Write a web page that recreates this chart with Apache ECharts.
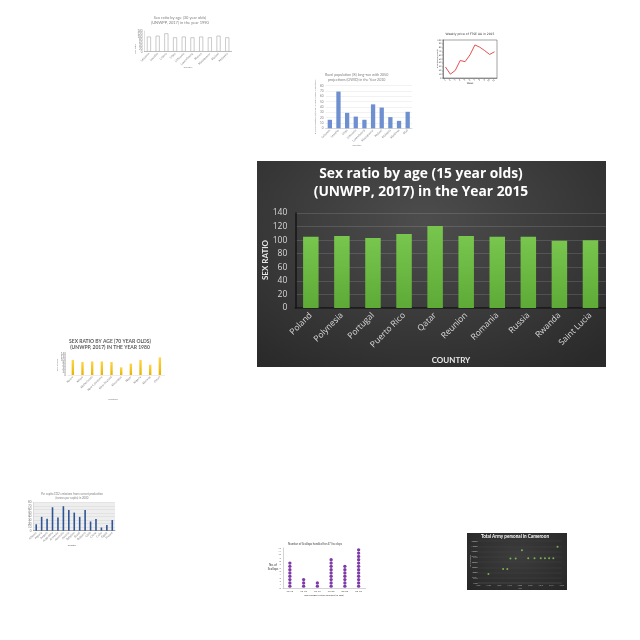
<!DOCTYPE html>
<html><head><meta charset="utf-8">
<script src="https://cdn.jsdelivr.net/npm/echarts@6/dist/echarts.min.js"></script>
<style>
html,body{margin:0;padding:0;background:#fff;}
#page{position:relative;width:640px;height:640px;overflow:hidden;background:#fff;}
.c{position:absolute;}
</style></head><body><div id="page"></div>
<script>
// ---------- MAIN CHART DATA ----------
const mainTitle1 = 'Sex ratio by age (15 year olds)';
const mainTitle2 = '(UNWPP, 2017) in the Year 2015';
const mainCategories = ['Poland','Polynesia','Portugal','Puerto Rico','Qatar','Reunion','Romania','Russia','Rwanda','Saint Lucia'];
const mainValues = [105, 106, 103, 109, 121, 106, 105, 105, 99, 100];

// ---------- SMALL CHART A (30 year olds, 1990) ----------
const aTitle1 = 'Sex ratio by age (30 year olds)';
const aTitle2 = '(UNWPP, 2017) in the year 1990';
const aCategories = ['Lebanon','Lesotho','Liberia','Libya','Lithuania','Luxembourg','Macao','Madagascar','Malawi','Malaysia'];
const aValues = [102, 108, 124, 97, 102, 97, 102, 97, 108, 97];

// ---------- SMALL CHART B (rural population) ----------
const bTitle1 = 'Rural population (%) long-run with 2050';
const bTitle2 = 'projections (OWID) in the Year 2010';
const bCategories = ['Lebanon','Lesotho','Libya','Lithuania','Luxembourg','Madagascar','Malawi','Malaysia','Maldives','Mali'];
const bValues = [16, 69, 29, 22, 16, 45, 39, 21, 14, 31];

// ---------- SMALL CHART C (line) ----------
const cTitle = 'Weekly price of FTSE AA in 2015';
const cCategories = ['1','2','3','4','5','6','7','8','9','10','11'];
const cValues = [29, 10, 20, 46, 43, 61, 87, 81, 72, 62, 69];

// ---------- SMALL CHART D (70 year olds, 1980) ----------
const dTitle1 = 'SEX RATIO BY AGE (70 YEAR OLDS)';
const dTitle2 = '(UNWPP, 2017) IN THE YEAR 1980';
const dCategories = ['Nauru','Nepal','Netherlands','New Caledonia','New Zealand','Nicaragua','Niger','Nigeria','Norway','Oman'];
const dValues = [102, 88, 92, 92, 88, 52, 77, 102, 70, 119];

// ---------- SMALL CHART E (blue bars) ----------
const eTitle1 = 'Per capita CO2 emissions from cement production';
const eTitle2 = '(tonnes per capita) in 2000';
const eCategories = ['Albania','Algeria','Angola','Argentina','Armenia','Australia','Austria','Belgium','Brazil','Bulgaria','Chile','China','Cuba','Egypt','France'];
const eValues = [18, 39, 34, 66, 37, 69, 58, 51, 39, 58, 26, 33, 9, 16, 30];

// ---------- SMALL CHART F (dot columns) ----------
const fTitle = 'Number of Scallops handled for 47 live days';
const fCategories = ['60-65','65-70','70-75','75-80','80-85','85-90'];
const fCounts = [8, 3, 2, 9, 7, 12];

// ---------- SMALL CHART G (dark scatter) ----------
const gTitle = 'Total Army personal in Cameroon';
const gYears = [1985, 1992, 1994, 1995.5, 1998, 2001, 2004, 2007, 2010, 2012, 2014, 2016, 2018];
const gValues = [3400, 5300, 5300, 9300, 9300, 12500, 9400, 9400, 9400, 9400, 9400, 9400, 13800];

// ---------- helpers ----------
const page = document.getElementById('page');
function mk(left, top, w, h, option, css) {
  const d = document.createElement('div');
  d.className = 'c';
  d.style.left = left + 'px'; d.style.top = top + 'px';
  d.style.width = w + 'px'; d.style.height = h + 'px';
  if (css) d.style.background = css;
  page.appendChild(d);
  const ch = echarts.init(d, null, {renderer: 'canvas'});
  option.animation = false;
  if (option.grid) { option.grid.containLabel = false; option.grid.outerBoundsMode = 'none'; }
  ch.setOption(option);
  return ch;
}
function txt(x, y, text, size, color, weight, family) {
  return {type: 'text', x: x, y: y, silent: true,
    style: {text: text, fill: color, fontSize: size, fontWeight: weight || 'normal',
      fontFamily: family || 'Lato', align: 'center', verticalAlign: 'middle'}};
}
function vtxt(x, y, text, size, color, weight) {
  return {type: 'text', x: x, y: y, rotation: Math.PI / 2, silent: true,
    style: {text: text, fill: color, fontSize: size, fontWeight: weight || 'normal',
      fontFamily: 'Lato', align: 'center', verticalAlign: 'middle'}};
}
function tinyBar(o) {
  return {
    textStyle: {fontFamily: 'Lato'},
    graphic: o.graphic,
    grid: Object.assign({}, o.grid, o.gridExtra || {}),
    xAxis: {type: 'category', data: o.categories,
      axisLine: {lineStyle: {color: o.axisColor || '#bfbfbf', width: 0.5}},
      axisTick: {show: false},
      axisLabel: {rotate: 45, interval: 0, fontSize: o.labelSize || 3, color: '#7f7f7f', margin: 1.5}},
    yAxis: {type: 'value', min: 0, max: o.max, interval: o.interval,
      axisLine: {show: !!o.yLine, lineStyle: {color: '#bfbfbf', width: 0.5}},
      axisLabel: {fontSize: o.labelSize || 3, color: '#7f7f7f', margin: 2},
      splitLine: {show: o.split !== false, lineStyle: {color: o.splitColor || '#e4e4e4', width: 0.5}}},
    series: [{type: 'bar', data: o.values, barWidth: o.barWidth, itemStyle: o.itemStyle}]
  };
}

// ---------- MAIN CHART ----------
mk(257, 161, 349, 206, {
  textStyle: {fontFamily: 'Open Sans'},
  graphic: [
    txt(164, 13, mainTitle1, 13.8, '#ffffff', 'bold', 'Open Sans'),
    txt(164, 31, mainTitle2, 13.8, '#ffffff', 'bold', 'Open Sans'),
    vtxt(8.5, 99, 'SEX RATIO', 8, '#e8e8e8', 'bold'),
    txt(194, 199, 'COUNTRY', 8, '#e8e8e8', 'bold')
  ],
  grid: {left: 38.3, right: 0, top: 52, bottom: 59},
  xAxis: {type: 'category', data: mainCategories,
    axisLine: {lineStyle: {color: '#151515', width: 1.5}},
    axisTick: {show: false},
    axisLabel: {rotate: 45, interval: 0, color: '#d9d9d9', fontSize: 8.5, margin: 6}},
  yAxis: {type: 'value', min: 0, max: 140, interval: 20,
    axisLine: {show: true, lineStyle: {color: '#151515', width: 1.5}},
    axisLabel: {color: '#d9d9d9', fontSize: 8.5, margin: 8},
    splitLine: {lineStyle: {color: 'rgba(255,255,255,0.13)', width: 1}}},
  series: [{type: 'bar', data: mainValues, barWidth: 15.5,
    itemStyle: {color: {type: 'linear', x: 0, y: 0, x2: 0, y2: 1,
      colorStops: [{offset: 0, color: '#78c64e'}, {offset: 1, color: '#5eaa37'}]}}}]
}, 'radial-gradient(ellipse 75% 85% at 48% 30%, #4d4d4d 0%, #3a3a3a 55%, #2a2a2a 100%)');

// ---------- A ----------
mk(125, 8, 125, 66, tinyBar({
  graphic: [txt(55, 9.7, aTitle1, 4, '#7f7f7f'), txt(55, 14.3, aTitle2, 4, '#7f7f7f'),
    vtxt(10, 41, 'Sex ratio', 2.5, '#7f7f7f'), txt(63, 59, 'Country', 2.5, '#7f7f7f')],
  grid: {left: 19.6, right: 18.4, top: 23, bottom: 22.3},
  categories: aCategories, values: aValues, max: 140, interval: 20, yLine: true, split: false,
  axisColor: '#7f7f7f', barWidth: 4,
  itemStyle: {color: '#ffffff', borderColor: '#a6a6a6', borderWidth: 0.6}
}));

// ---------- B ----------
mk(305, 68, 115, 82, tinyBar({
  graphic: [txt(51.7, 7, bTitle1, 3.6, '#7f7f7f'), txt(51.7, 11.4, bTitle2, 3.6, '#7f7f7f'),
    vtxt(10, 39, 'Rural population (%) long-run with 2050 projections', 2.4, '#7f7f7f'),
    txt(52, 77.5, 'Country', 2.6, '#7f7f7f')],
  grid: {left: 20.5, right: 8, top: 17.7, bottom: 21.7},
  categories: bCategories, values: bValues, max: 80, interval: 10, barWidth: 4.3,
  itemStyle: {color: '#6f90d0'}
}));

// ---------- C (line) ----------
mk(432, 30, 72, 58, {
  textStyle: {fontFamily: 'DejaVu Sans'},
  graphic: [txt(38, 4, cTitle, 3, '#333333', 'normal', 'DejaVu Sans'),
    vtxt(5, 29, 'Price (Pence/Share)', 2.2, '#333333'),
    txt(38, 53, 'Week', 2.4, '#333333', 'normal', 'DejaVu Sans')],
  grid: {left: 11, right: 7, top: 10, bottom: 10, show: true, borderColor: '#444', borderWidth: 0.5},
  xAxis: {type: 'category', data: cCategories, boundaryGap: true,
    axisLine: {lineStyle: {color: '#444', width: 0.5}},
    axisTick: {lineStyle: {color: '#444', width: 0.4}, length: 1},
    axisLabel: {fontSize: 2.2, color: '#444', margin: 1.5, rotate: 45, interval: 0}},
  yAxis: {type: 'value', min: 0, max: 100, interval: 10,
    axisLine: {show: true, lineStyle: {color: '#444', width: 0.5}},
    axisTick: {show: true, length: 1, lineStyle: {width: 0.4}},
    axisLabel: {fontSize: 2.2, color: '#444', margin: 1.5},
    splitLine: {show: false}},
  series: [{type: 'line', data: cValues, symbol: 'none',
    lineStyle: {color: '#e03c3c', width: 0.9}}]
});

// ---------- D (yellow) ----------
mk(50, 334, 125, 70, tinyBar({
  graphic: [txt(60, 7, dTitle1, 5, '#595959', 'bold'), txt(60, 13, dTitle2, 5, '#595959', 'bold'),
    vtxt(7, 31, 'SEX RATIO', 2.5, '#7f7f7f'), txt(63, 65, 'Location', 2.6, '#7f7f7f')],
  grid: {left: 18, right: 10.3, top: 20.3, bottom: 29},
  categories: dCategories, values: dValues, max: 140, interval: 20, split: false,
  axisColor: '#d9d9d9', barWidth: 2.4,
  itemStyle: {color: {type: 'linear', x: 0, y: 0, x2: 0, y2: 1,
    colorStops: [{offset: 0, color: '#ffd54a'}, {offset: 1, color: '#e8b400'}]}}
}));

// ---------- E (blue) ----------
mk(25, 488, 95, 62, tinyBar({
  graphic: [txt(47, 6, eTitle1, 2.8, '#7f7f7f'), txt(47, 10.5, eTitle2, 2.8, '#7f7f7f'),
    vtxt(4, 29, 'tonnes per capita', 2.2, '#7f7f7f'), txt(47, 57, 'Country', 2.4, '#595959')],
  grid: {left: 8.5, right: 5, top: 14.3, bottom: 19.3, show: true, backgroundColor: '#eeeeee', borderWidth: 0},
  categories: eCategories, values: eValues, max: 80, interval: 10, yLine: true, barWidth: 1.6,
  axisColor: '#595959', splitColor: '#d6d6d6',
  itemStyle: {color: '#2f5597'}
}));

// ---------- F (dots) ----------
mk(262, 538, 110, 62, {
  textStyle: {fontFamily: 'Lato'},
  graphic: [txt(53, 6, fTitle, 2.8, '#404040'),
    txt(11, 27.5, 'No. of', 3, '#404040'), txt(11, 31.5, 'Scallops', 3, '#404040'),
    txt(62, 57, 'Size Ranges of the Scallops (in mm)', 2.6, '#404040')],
  grid: {left: 21, right: 6.5, top: 10, bottom: 12},
  xAxis: {type: 'category', data: fCategories,
    axisLine: {lineStyle: {color: '#a6a6a6', width: 0.5}},
    axisTick: {show: false},
    axisLabel: {fontSize: 2.6, color: '#595959', margin: 2, interval: 0}},
  yAxis: {type: 'value', min: 0, max: 12, interval: 1,
    axisLine: {show: true, lineStyle: {color: '#a6a6a6', width: 0.5}},
    axisLabel: {fontSize: 2.4, color: '#595959', margin: 2},
    splitLine: {show: false}},
  series: [{type: 'pictorialBar', data: fCounts, symbol: 'circle', symbolRepeat: true,
    symbolSize: [3.33, 3.33], symbolMargin: 0, barCategoryGap: '60%',
    itemStyle: {color: '#7e3aa6', borderColor: '#e9d6f2', borderWidth: 0.3}}]
});

// ---------- G (dark scatter) ----------
mk(467, 533, 100, 57, {
  textStyle: {fontFamily: 'Lato'},
  graphic: [txt(48, 3.6, gTitle, 4.6, '#ffffff', 'bold'),
    vtxt(3, 28, 'Army personnel', 1.8, '#a6a6a6'), txt(53, 55.5, 'Year', 2, '#a6a6a6')],
  grid: {left: 11, right: 5.3, top: 8, bottom: 7},
  xAxis: {type: 'value', min: 1980, max: 2020, interval: 5,
    axisLine: {show: true, lineStyle: {color: '#595959', width: 0.4}},
    axisTick: {show: false},
    axisLabel: {fontSize: 1.8, color: '#a6a6a6', margin: 1.5},
    splitLine: {show: false}},
  yAxis: {type: 'value', min: 0, max: 16000, interval: 2000,
    axisLine: {show: false},
    axisLabel: {fontSize: 1.8, color: '#a6a6a6', margin: 1.5},
    splitLine: {lineStyle: {color: '#4a4a4a', width: 0.4}}},
  series: [{type: 'scatter', data: gYears.map((y, i) => [y, gValues[i]]), symbolSize: 2,
    itemStyle: {color: '#8ecf5a'}}]
}, 'radial-gradient(ellipse at 50% 40%, #3d3d3d 0%, #262626 100%)');
</script></body></html>
